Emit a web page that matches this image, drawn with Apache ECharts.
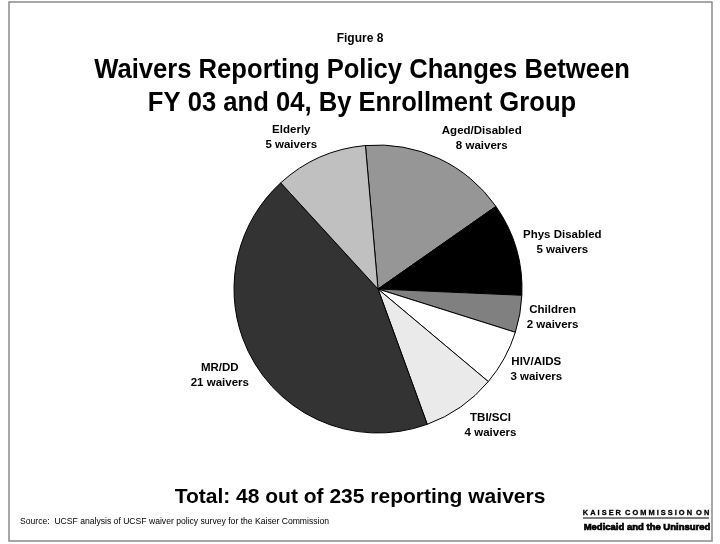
<!DOCTYPE html>
<html>
<head>
<meta charset="utf-8">
<script src="https://cdn.jsdelivr.net/npm/echarts@6/dist/echarts.min.js"></script>
<style>
  html, body { margin: 0; padding: 0; background: #ffffff; }
  #chart { width: 720px; height: 544px; }
</style>
</head>
<body>
<div id="chart"></div>
<script>
// Enrollment groups, in clockwise order starting just left of 12 o'clock
const groups = ['Aged/Disabled', 'Phys Disabled', 'Children', 'HIV/AIDS', 'TBI/SCI', 'MR/DD', 'Elderly'];
const waivers = [8, 5, 2, 3, 4, 21, 5];
const sliceColors = ['#969696', '#000000', '#808080', '#ffffff', '#eaeaea', '#333333', '#c0c0c0'];

const figureLabel = 'Figure 8';
const titleLines = ['Waivers Reporting Policy Changes Between', 'FY 03 and 04, By Enrollment Group'];
const totalNote = 'Total: 48 out of 235 reporting waivers';
const sourceNote = 'Source:  UCSF analysis of UCSF waiver policy survey for the Kaiser Commission';

const FONT = '"Liberation Sans", Arial, Helvetica, sans-serif';
const CX = 378, CY = 289, R = 144;
const START_DEG = -5;      // clockwise from 12 o'clock
const LABEL_GAP = 7;

const total = waivers.reduce((a, b) => a + b, 0);

// Place each label so its nearest edge touches a point just outside the rim, on the slice's mid-angle
function placeLabel(params) {
  const i = params.dataIndex;
  let before = 0;
  for (let k = 0; k < i; k++) before += waivers[k];
  const midDeg = START_DEG + (before + waivers[i] / 2) / total * 360;
  const a = midDeg * Math.PI / 180;
  const s = Math.sin(a), c = Math.cos(a);
  const px = CX + (R + LABEL_GAP) * s;
  const py = CY - (R + LABEL_GAP) * c;
  const w = params.labelRect.width, h = params.labelRect.height;
  return {
    x: px + (s >= 0 ? w / 2 : -w / 2),
    y: py - c * h / 2,
    align: 'center',
    verticalAlign: 'middle'
  };
}

const chart = echarts.init(document.getElementById('chart'), null, { renderer: 'canvas' });

chart.setOption({
  backgroundColor: '#ffffff',
  animation: false,
  graphic: [
    { type: 'rect', shape: { x: 9, y: 2, width: 703, height: 539 },
      style: { fill: 'none', stroke: '#8a8a8a', lineWidth: 1.5 }, silent: true },
    { type: 'text', x: 360, y: 39, style: { text: figureLabel, font: 'bold 12px ' + FONT, fill: '#000', textAlign: 'center', textVerticalAlign: 'middle' } },
    { type: 'text', x: 362, y: 71, scaleX: 0.985, scaleY: 1.04,
      style: { text: titleLines[0], font: 'bold 26px ' + FONT, fill: '#000', textAlign: 'center', textVerticalAlign: 'middle' } },
    { type: 'text', x: 362, y: 104, scaleX: 0.985, scaleY: 1.04,
      style: { text: titleLines[1], font: 'bold 26px ' + FONT, fill: '#000', textAlign: 'center', textVerticalAlign: 'middle' } },
    { type: 'text', x: 360, y: 497, style: { text: totalNote, font: 'bold 21px ' + FONT, fill: '#000', textAlign: 'center', textVerticalAlign: 'middle' } },
    { type: 'text', x: 20, y: 522, style: { text: sourceNote, font: '8.6px ' + FONT, fill: '#000', textAlign: 'left', textVerticalAlign: 'middle' } },
    { type: 'text', x: 646, y: 513, style: { text: 'K A I S E R  C O M M I S S I O N  O N', font: 'bold 7.4px ' + FONT, fill: '#000', stroke: '#000', lineWidth: 0.3, textAlign: 'center', textVerticalAlign: 'middle' } },
    { type: 'line', shape: { x1: 583, y1: 518, x2: 709, y2: 518 }, style: { stroke: '#000', lineWidth: 1 } },
    { type: 'text', x: 647, y: 527, style: { text: 'Medicaid and the Uninsured', font: 'bold 9.5px ' + FONT, fill: '#000', stroke: '#000', lineWidth: 0.7, textAlign: 'center', textVerticalAlign: 'middle' } }
  ],
  series: [{
    type: 'pie',
    center: [CX, CY],
    radius: R,
    startAngle: 90 - START_DEG,
    clockwise: true,
    avoidLabelOverlap: false,
    itemStyle: { borderColor: '#000000', borderWidth: 1 },
    label: {
      show: true,
      position: 'outside',
      formatter: p => p.name + '\n' + p.value + ' waivers',
      fontFamily: FONT,
      fontWeight: 'bold',
      fontSize: 11.5,
      lineHeight: 15,
      color: '#000000',
      align: 'center'
    },
    labelLine: { show: false, length: 5, length2: 0 },
    labelLayout: placeLabel,
    emphasis: { disabled: true },
    data: groups.map((g, i) => ({ name: g, value: waivers[i], itemStyle: { color: sliceColors[i] } }))
  }]
});
</script>
</body>
</html>
